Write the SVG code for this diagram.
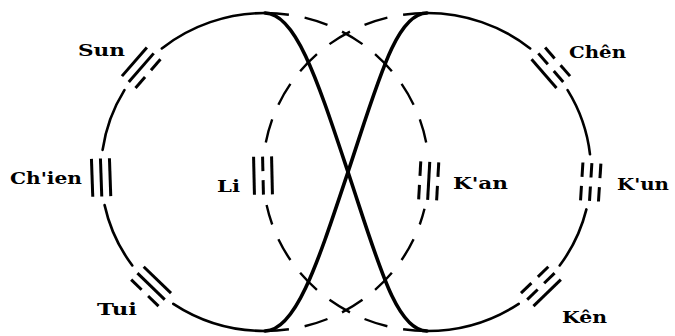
<svg xmlns="http://www.w3.org/2000/svg" width="675" height="336" viewBox="0 0 675 336">
<style>
.solid{fill:none;stroke:#000;stroke-width:2.6;stroke-linecap:round}
.cross{fill:none;stroke:#000;stroke-width:3.6;stroke-linecap:round}
.dash{fill:none;stroke:#000;stroke-width:2.4;stroke-dasharray:24 16}
.tri{stroke:#000;stroke-width:3;fill:none}
text{font-family:"DejaVu Serif","Liberation Serif",serif;font-weight:bold;font-size:17px;fill:#000}
</style>
<defs>
<g id="yang"><line x1="0" y1="-19" x2="0" y2="19"/></g>
<g id="yin"><line x1="0" y1="-19" x2="0" y2="-4.5"/><line x1="0" y1="4.5" x2="0" y2="19"/></g>
</defs>
<rect width="675" height="336" fill="#fff"/>
<g id="connectors">
<path class="solid" d="M265,13 A164,159 0 0 0 161.8,48.4 M124.4,90.1 A164,159 0 0 0 102.6,149.9 M104.6,205.1 A164,159 0 0 0 132.3,265.5 M173.3,303.8 A164,159 0 0 0 265,331"/>
<path class="solid" d="M427,13 A164,159 0 0 1 530.2,48.4 M567.6,90.1 A164,159 0 0 1 590,154.3 M586.4,209.4 A164,159 0 0 1 559.7,265.5 M518.7,303.8 A164,159 0 0 1 427,331"/>
<path class="dash" d="M265,13 A164,159 0 0 1 427.8,152.6"/>
<path class="dash" d="M265,331 A164,159 0 0 0 424.5,208.8"/>
<path class="dash" d="M427,13 A164,159 0 0 0 265,147.1"/>
<path class="dash" d="M427,331 A164,159 0 0 1 266.6,205.1"/>
<path class="cross" d="M265,13 C296,13 318,82 348,172 S396,331 427,331"/>
<path class="cross" d="M427,13 C396,13 378,82 348,172 S296,331 265,331"/>
</g>
<g id="sun">
<g class="tri" transform="translate(141.2,67.7) rotate(41)"><use href="#yang" x="-9"/><use href="#yang"/><use href="#yin" x="9"/></g>
<text x="78" y="56" textLength="47" lengthAdjust="spacingAndGlyphs">Sun</text>
</g>
<g id="chien">
<g class="tri" transform="translate(101.1,177.5) rotate(-2)"><use href="#yang" x="-9"/><use href="#yang"/><use href="#yang" x="9"/></g>
<text x="10" y="184" textLength="72" lengthAdjust="spacingAndGlyphs">Ch'ien</text>
</g>
<g id="tui">
<g class="tri" transform="translate(151.1,286.4) rotate(-46)"><use href="#yin" x="-9"/><use href="#yang"/><use href="#yang" x="9"/></g>
<text x="97" y="315" textLength="40" lengthAdjust="spacingAndGlyphs">Tui</text>
</g>
<g id="li">
<g class="tri" transform="translate(263,175.6) rotate(-1.3)"><use href="#yang" x="-9"/><use href="#yin"/><use href="#yang" x="9"/></g>
<text x="217" y="192" textLength="23" lengthAdjust="spacingAndGlyphs">Li</text>
</g>
<g id="kan">
<g class="tri" transform="translate(428.7,180.9) rotate(-176.8)"><use href="#yin" x="-9"/><use href="#yang"/><use href="#yin" x="9"/></g>
<text x="453" y="189" textLength="55" lengthAdjust="spacingAndGlyphs">K'an</text>
</g>
<g id="chen">
<g class="tri" transform="translate(550.8,67.7) rotate(139)"><use href="#yin" x="-9"/><use href="#yin"/><use href="#yang" x="9"/></g>
<text x="569" y="58" textLength="57" lengthAdjust="spacingAndGlyphs">Chên</text>
</g>
<g id="kun">
<g class="tri" transform="translate(590.7,182) rotate(-176.4)"><use href="#yin" x="-9"/><use href="#yin"/><use href="#yin" x="9"/></g>
<text x="617" y="190" textLength="52" lengthAdjust="spacingAndGlyphs">K'un</text>
</g>
<g id="ken">
<g class="tri" transform="translate(540.9,286.4) rotate(-134)"><use href="#yang" x="-9"/><use href="#yin"/><use href="#yin" x="9"/></g>
<text x="562" y="323" textLength="45" lengthAdjust="spacingAndGlyphs">Kên</text>
</g>
</svg>
